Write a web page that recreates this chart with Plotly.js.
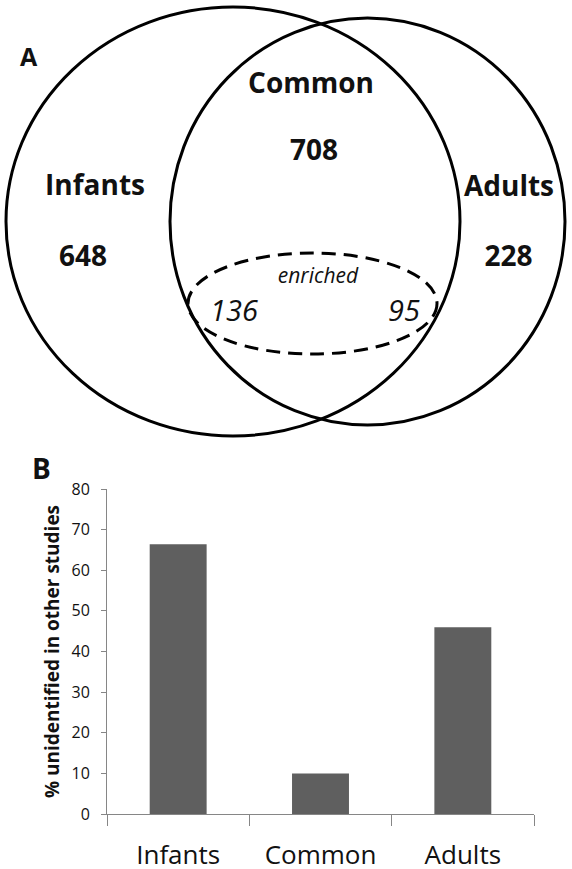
<!DOCTYPE html>
<html><head><meta charset="utf-8">
<script src="https://cdn.plot.ly/plotly-3.0.1.min.js"></script>
<style>html,body{margin:0;padding:0;background:#fff}#chart{width:572px;height:869px}</style>
</head><body><div id="chart"></div>
<script>
// ---- data ----
const groups = ['Infants', 'Common', 'Adults'];
const groupCounts = [648, 708, 228];
const enrichedLabel = 'enriched';
const enrichedCounts = [136, 95];
const pctUnidentified = [66.4, 10, 46];
const yTickValues = [0, 10, 20, 30, 40, 50, 60, 70, 80];
const yTitle = '% unidentified in other studies';
const panelLabels = ['A', 'B'];

// ---- layout (pixel positions on the Venn canvas) ----
const W = 572, H = 869;
const namePos = {x: [95, 311, 509], y: [188, 86, 189]};
const countPos = {x: [83, 314, 508.5], y: [259, 153, 259]};
const enrichedWordPos = {x: 318, y: 278};
const enrichedCountPos = {x: [234, 404], y: [314, 314]};
const panelPos = [{x: 29, y: 56, size: 25}, {x: 41, y: 468, size: 28}];
const FONT = 'Open Sans, sans-serif';
const AXIS_GRAY = '#868686';
const TXT = '#111111';

const vennTextBase = {type: 'scatter', mode: 'text', xaxis: 'x2', yaxis: 'y2',
  hoverinfo: 'skip', showlegend: false, textposition: 'middle center'};

const traces = [
  {type: 'bar', x: groups, y: pctUnidentified, xaxis: 'x', yaxis: 'y',
   marker: {color: '#5f5f5f', line: {width: 0}}, hoverinfo: 'skip', showlegend: false},
  Object.assign({}, vennTextBase, {x: namePos.x, y: namePos.y, text: groups,
   textfont: {family: FONT, size: 28, weight: 'bold', color: TXT}}),
  Object.assign({}, vennTextBase, {x: countPos.x, y: countPos.y, text: groupCounts.map(String),
   textfont: {family: FONT, size: 28, weight: 'bold', color: TXT}}),
  Object.assign({}, vennTextBase, {x: [enrichedWordPos.x], y: [enrichedWordPos.y], text: [enrichedLabel],
   textfont: {family: FONT, size: 21, style: 'italic', color: TXT}}),
  Object.assign({}, vennTextBase, {x: enrichedCountPos.x, y: enrichedCountPos.y, text: enrichedCounts.map(String),
   textfont: {family: FONT, size: 29, style: 'italic', color: TXT}})
];

const circleLine = {color: '#000', width: 3};
const layout = {
  width: W, height: H,
  margin: {l: 0, r: 0, t: 0, b: 0},
  paper_bgcolor: '#fff', plot_bgcolor: 'rgba(0,0,0,0)',
  font: {family: FONT, color: TXT},
  bargap: 0.6,
  xaxis: {
    domain: [107 / W, 534 / W], anchor: 'y', type: 'category', range: [-0.5, 2.5],
    showline: true, linecolor: AXIS_GRAY, linewidth: 1,
    ticks: 'outside', tickson: 'boundaries', ticklen: 11, tickcolor: AXIS_GRAY, tickwidth: 1,
    tickfont: {family: FONT, size: 26, color: TXT}, ticklabelstandoff: 18,
    showgrid: false, zeroline: false, fixedrange: true
  },
  yaxis: {
    domain: [(H - 814) / H, (H - 489) / H], anchor: 'x', range: [0, 80],
    tickvals: yTickValues, ticktext: yTickValues.map(String),
    showline: true, linecolor: AXIS_GRAY, linewidth: 1,
    ticks: 'outside', ticklen: 5, tickcolor: AXIS_GRAY, tickwidth: 1,
    tickfont: {family: FONT, size: 16, color: TXT}, ticklabelstandoff: 8,
    showgrid: false, zeroline: false, fixedrange: true,
    title: {text: yTitle, font: {family: FONT, size: 19, weight: 'bold', color: TXT}, standoff: 6}
  },
  xaxis2: {domain: [0, 1], anchor: 'y2', range: [0, W], visible: false, fixedrange: true},
  yaxis2: {domain: [0, 1], anchor: 'x2', range: [H, 0], visible: false, fixedrange: true},
  shapes: [
    {type: 'circle', xref: 'x2', yref: 'y2', x0: 6, x1: 460, y0: 7, y1: 436, line: circleLine},
    {type: 'circle', xref: 'x2', yref: 'y2', x0: 170, x1: 565, y0: 18, y1: 425, line: circleLine},
    {type: 'circle', xref: 'x2', yref: 'y2', x0: 188, x1: 437, y0: 253, y1: 354,
     line: {color: '#000', width: 3, dash: '14px,8px'}}
  ],
  annotations: panelLabels.map((t, i) => ({
    text: t, xref: 'x2', yref: 'y2', x: panelPos[i].x, y: panelPos[i].y,
    showarrow: false, xanchor: 'center', yanchor: 'middle',
    font: {family: FONT, size: panelPos[i].size, weight: 'bold', color: TXT}
  }))
};

Plotly.newPlot('chart', traces, layout, {staticPlot: true, displayModeBar: false});
</script>
</body></html>
